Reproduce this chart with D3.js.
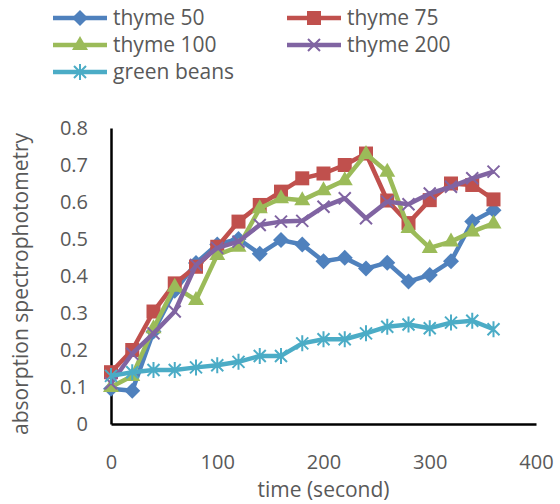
<!DOCTYPE html>
<html>
<head>
<meta charset="utf-8">
<title>absorption chart</title>
<script src="https://cdn.jsdelivr.net/npm/d3@7"></script>
<style>
    body { margin: 0; background: #fff; }
    text { font-family: "Open Sans", sans-serif; fill: #595959; }
</style>
</head>
<body>
<div id="chart"></div>
<script>
    // values
    var times = [0, 20, 40, 60, 80, 100, 120, 140, 160, 180, 200, 220, 240, 260, 280, 300, 320, 340, 360];
    var thyme50 = [0.095, 0.09, 0.25, 0.36, 0.435, 0.485, 0.5, 0.46, 0.497, 0.485, 0.44, 0.449, 0.42, 0.436, 0.385, 0.403, 0.44, 0.547, 0.578];
    var thyme75 = [0.14, 0.2, 0.304, 0.38, 0.425, 0.479, 0.547, 0.592, 0.628, 0.664, 0.677, 0.7, 0.731, 0.604, 0.543, 0.605, 0.65, 0.646, 0.607];
    var thyme100 = [0.1, 0.13, 0.259, 0.371, 0.335, 0.457, 0.479, 0.583, 0.61, 0.605, 0.632, 0.659, 0.73, 0.682, 0.53, 0.476, 0.493, 0.52, 0.542];
    var thyme200 = [0.11, 0.19, 0.245, 0.304, 0.43, 0.476, 0.493, 0.538, 0.547, 0.549, 0.587, 0.61, 0.556, 0.601, 0.594, 0.623, 0.641, 0.664, 0.682];
    var greenBeans = [0.13, 0.14, 0.146, 0.146, 0.153, 0.159, 0.168, 0.184, 0.184, 0.218, 0.229, 0.229, 0.245, 0.263, 0.269, 0.259, 0.274, 0.279, 0.256];

    var seriesNames = ['thyme 50', 'thyme 75', 'thyme 100', 'thyme 200', 'green beans'];
    var seriesValues = [thyme50, thyme75, thyme100, thyme200, greenBeans];
    var colors = ['#4f81bd', '#c0504d', '#9bbb59', '#8064a2', '#4bacc6'];
    var shapes = ['diamond', 'square', 'triangle', 'x', 'star'];

    var xTicks = [0, 100, 200, 300, 400];
    var yTicks = [0, 0.1, 0.2, 0.3, 0.4, 0.5, 0.6, 0.7, 0.8];

    var margin = {top: 128, right: 24, bottom: 80, left: 111};
    var W = 560, H = 504;
    var width = W - margin.left - margin.right;
    var height = H - margin.top - margin.bottom;

    var svg = d3.select('#chart').append('svg')
        .attr('width', W)
        .attr('height', H);

    var g = svg.append('g')
        .attr('transform', 'translate(' + margin.left + ',' + margin.top + ')');

    var xScale = d3.scaleLinear().domain([0, 400]).range([0, width]);
    var yScale = d3.scaleLinear().domain([0, 0.8]).range([height, 0]);

    var xAxis = d3.axisBottom(xScale).tickValues(xTicks).tickSize(0).tickPadding(31)
        .tickFormat(d3.format('d'));
    var yAxis = d3.axisLeft(yScale).tickValues(yTicks).tickSize(0).tickPadding(23)
        .tickFormat(function (d) { return d === 0 ? '0' : d3.format('.1f')(d); });

    g.append('g')
        .attr('transform', 'translate(0,' + height + ')')
        .call(xAxis)
        .call(function (s) {
            s.select('.domain').attr('stroke', '#000').attr('stroke-width', 2.5);
            s.selectAll('text').attr('font-size', 20).attr('fill', '#595959')
                .attr('font-family', '"Open Sans", sans-serif');
        });

    g.append('g')
        .call(yAxis)
        .call(function (s) {
            s.select('.domain').attr('stroke', '#000').attr('stroke-width', 2.5);
            s.selectAll('text').attr('font-size', 20).attr('fill', '#595959')
                .attr('font-family', '"Open Sans", sans-serif');
        });

    // axis titles
    svg.append('text')
        .attr('x', margin.left + width / 2)
        .attr('y', 497)
        .attr('text-anchor', 'middle')
        .attr('font-size', 21)
        .text('time (second)');

    svg.append('text')
        .attr('transform', 'translate(28,284) rotate(-90)')
        .attr('text-anchor', 'middle')
        .attr('font-size', 21)
        .text('absorption spectrophotometry');

    function drawMarker(sel, shape, color) {
        if (shape === 'diamond') {
            sel.append('path').attr('d', 'M0,-8L8,0L0,8L-8,0Z').attr('fill', color);
        } else if (shape === 'square') {
            sel.append('rect').attr('x', -7).attr('y', -7).attr('width', 14).attr('height', 14).attr('fill', color);
        } else if (shape === 'triangle') {
            sel.append('path').attr('d', 'M0,-9L8,5L-8,5Z').attr('fill', color);
        } else if (shape === 'x') {
            sel.append('path').attr('d', 'M-6,-6L6,6M-6,6L6,-6')
                .attr('stroke', color).attr('stroke-width', 2).attr('fill', 'none');
        } else {
            sel.append('path').attr('d', 'M-6,-6L6,6M-6,6L6,-6M0,-8L0,8')
                .attr('stroke', color).attr('stroke-width', 2).attr('fill', 'none');
        }
    }

    var line = d3.line()
        .x(function (d, i) { return xScale(times[i]); })
        .y(function (d) { return yScale(d); });

    seriesValues.forEach(function (vals, k) {
        var sg = g.append('g');
        sg.append('path')
            .datum(vals)
            .attr('d', line)
            .attr('fill', 'none')
            .attr('stroke', colors[k])
            .attr('stroke-width', 4.5)
            .attr('stroke-linejoin', 'round');
        sg.selectAll('.m')
            .data(vals)
            .enter()
            .append('g')
            .attr('class', 'm')
            .attr('transform', function (d, i) {
                return 'translate(' + xScale(times[i]) + ',' + yScale(d) + ')';
            })
            .each(function () { drawMarker(d3.select(this), shapes[k], colors[k]); });
    });

    // legend
    var legendX = [53, 287];
    var legendY = [18, 45, 72];
    seriesNames.forEach(function (name, k) {
        var lx = legendX[k % 2], ly = legendY[Math.floor(k / 2)];
        var lg = svg.append('g').attr('transform', 'translate(' + lx + ',' + ly + ')');
        lg.append('line').attr('x1', 0).attr('x2', 54).attr('y1', 0).attr('y2', 0)
            .attr('stroke', colors[k]).attr('stroke-width', 4.5);
        drawMarker(lg.append('g').attr('transform', 'translate(27,0)'), shapes[k], colors[k]);
        lg.append('text').attr('x', 60).attr('y', 7).attr('font-size', 21).text(name);
    });
</script>
</body>
</html>
